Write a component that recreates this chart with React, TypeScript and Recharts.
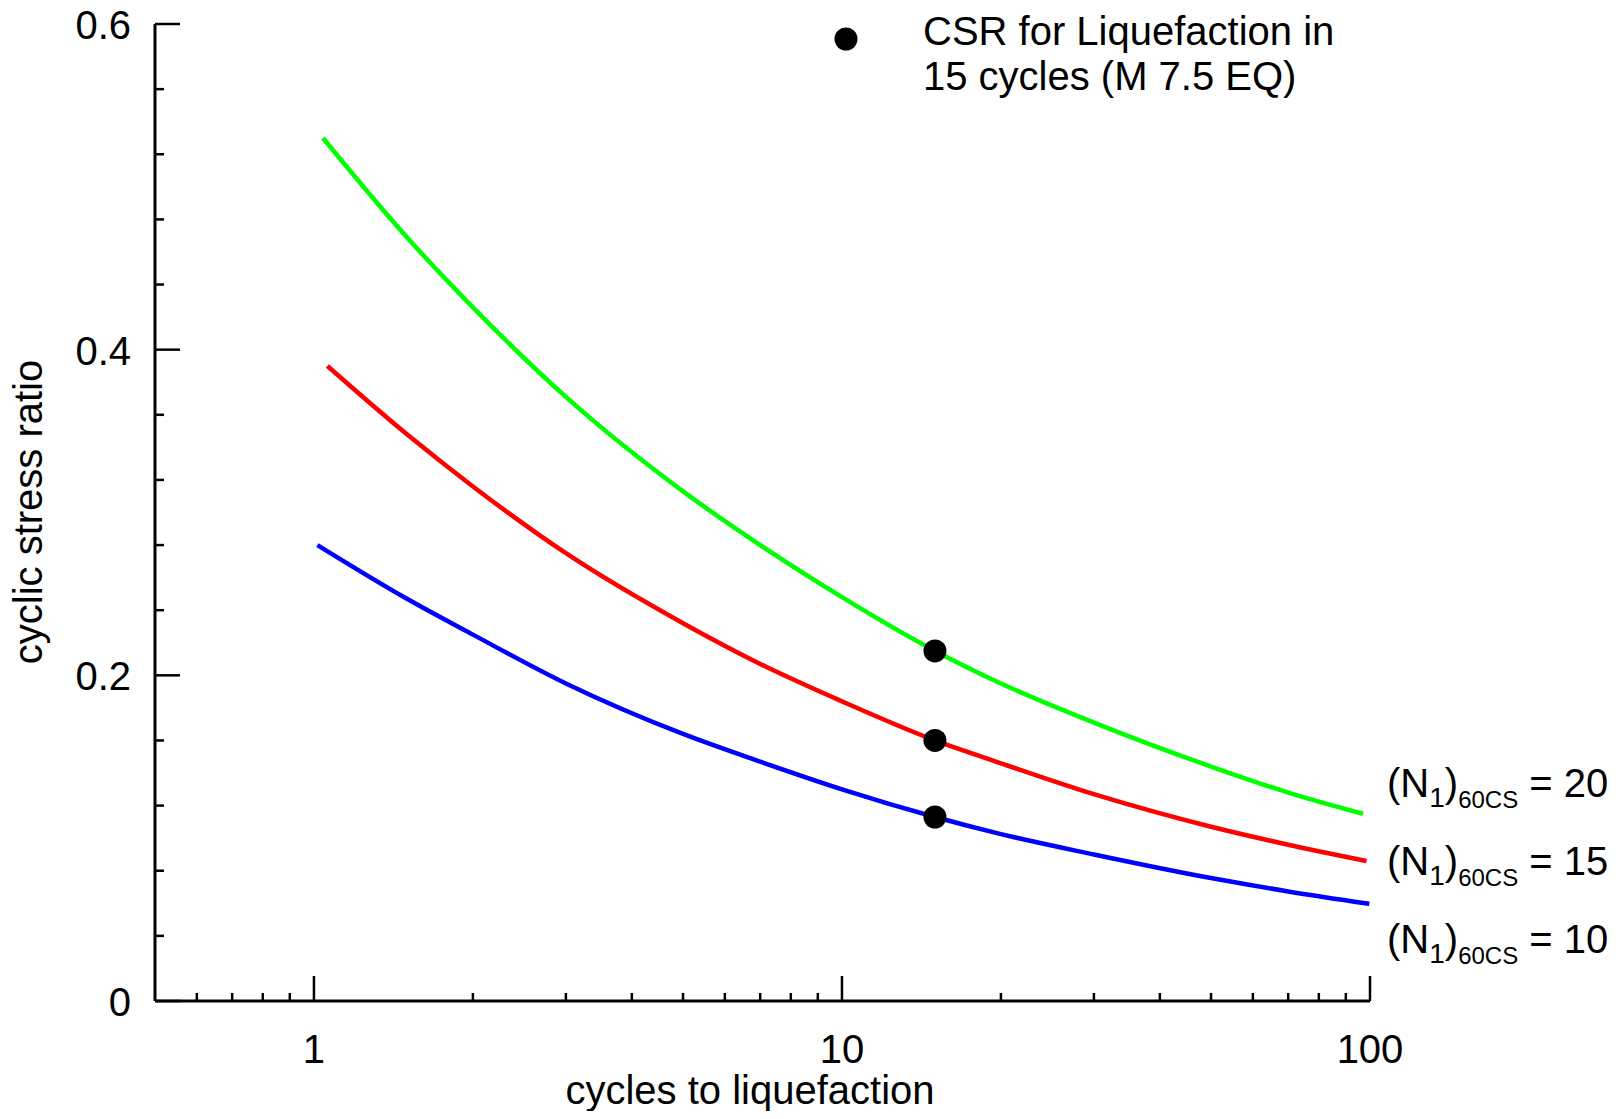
import React from 'react';
import { ComposedChart, Line, Scatter, XAxis, YAxis } from 'recharts';

const FONT = '"Liberation Sans", Arial, Helvetica, sans-serif';

// Curves: cycles to liquefaction vs cyclic stress ratio
const n20Cycles = [1.04, 1.5, 2, 3, 5, 7, 10, 15, 20, 30, 50, 70, 97];
const n20CSR = [0.53, 0.469, 0.426, 0.371, 0.313, 0.28, 0.248, 0.215, 0.195, 0.171, 0.144, 0.128, 0.115];
const n15Cycles = [1.06, 1.5, 2, 3, 5, 7, 10, 15, 20, 30, 50, 70, 98.5];
const n15CSR = [0.39, 0.348, 0.316, 0.275, 0.232, 0.207, 0.184, 0.16, 0.146, 0.127, 0.107, 0.096, 0.086];
const n10Cycles = [1.015, 1.5, 2, 3, 5, 7, 10, 15, 20, 30, 50, 70, 99.7];
const n10CSR = [0.28, 0.247, 0.225, 0.195, 0.164, 0.147, 0.13, 0.113, 0.1025, 0.09, 0.0755, 0.0673, 0.0597];

// CSR for liquefaction in 15 cycles
const markerCycles = [15, 15, 15];
const markerCSR = [0.215, 0.16, 0.113];

const xMajorTicks = [1, 10, 100];
const xTickLabels = ['1', '10', '100'];
const xMinorTicks = [0.6, 0.7, 0.8, 0.9, 2, 3, 4, 5, 6, 7, 8, 9, 20, 30, 40, 50, 60, 70, 80, 90];
const yMajorTicks = [0, 0.2, 0.4, 0.6];
const yTickLabels = ['0', '0.2', '0.4', '0.6'];
const yMinorTicks = [0.04, 0.08, 0.12, 0.16, 0.24, 0.28, 0.32, 0.36, 0.44, 0.48, 0.52, 0.56];

const curveValues = ['20', '15', '10'];
const legendLines = ['CSR for Liquefaction in', '15 cycles (M 7.5 EQ)'];
const xTitle = 'cycles to liquefaction';
const yTitle = 'cyclic stress ratio';

const toRows = (xs: number[], ys: number[]) => xs.map((n, i) => ({ n, csr: ys[i] }));

const n20Data = toRows(n20Cycles, n20CSR);
const n15Data = toRows(n15Cycles, n15CSR);
const n10Data = toRows(n10Cycles, n10CSR);
const markerData = toRows(markerCycles, markerCSR);

const xTicks = [...xMinorTicks, ...xMajorTicks].sort((a, b) => a - b);
const yTicks = [...yMinorTicks, ...yMajorTicks].sort((a, b) => a - b);

const W = 1621;
const H = 1119;

const isIn = (arr: number[], v: number) => arr.findIndex((a) => Math.abs(a - v) < 1e-9);

const XTick = (props: any) => {
  const { x, y, payload } = props;
  const idx = isIn(xMajorTicks, payload.value);
  const major = idx >= 0;
  return (
    <g>
      <line x1={x} x2={x} y1={y} y2={y - (major ? 25 : 8)} stroke="#000" strokeWidth={2.5} />
      {major && (
        <text x={x} y={y + 62} textAnchor="middle" fontSize={40} fontFamily={FONT} fill="#000">
          {xTickLabels[idx]}
        </text>
      )}
    </g>
  );
};

const YTick = (props: any) => {
  const { x, y, payload } = props;
  const idx = isIn(yMajorTicks, payload.value);
  const major = idx >= 0;
  return (
    <g>
      <line x1={x} x2={x + (major ? 25 : 9)} y1={y} y2={y} stroke="#000" strokeWidth={2.5} />
      {major && (
        <text x={x - 24} y={y + 15} textAnchor="end" fontSize={40} fontFamily={FONT} fill="#000">
          {yTickLabels[idx]}
        </text>
      )}
    </g>
  );
};

const Dot = (props: any) => <circle cx={props.cx} cy={props.cy} r={11.5} fill="#000" />;

export default function App() {
  return (
    <div style={{ position: 'relative', width: W, height: H, margin: -8 }}>
      <ComposedChart width={W} height={H} margin={{ top: 24, right: 251, bottom: 58, left: 95 }}>
        <XAxis
          type="number"
          dataKey="n"
          scale="log"
          domain={[0.5, 100]}
          allowDataOverflow
          ticks={xTicks}
          interval={0}
          tickSize={0}
          tickMargin={0}
          tickLine={false}
          tick={<XTick />}
          height={60}
          axisLine={{ stroke: '#000', strokeWidth: 3 }}
        />
        <YAxis
          type="number"
          dataKey="csr"
          domain={[0, 0.6]}
          allowDataOverflow
          ticks={yTicks}
          interval={0}
          tickSize={0}
          tickMargin={0}
          tickLine={false}
          tick={<YTick />}
          width={60}
          axisLine={{ stroke: '#000', strokeWidth: 3 }}
        />
        <Line data={n20Data} dataKey="csr" type="monotone" stroke="#00ff00" strokeWidth={4.5} dot={false} isAnimationActive={false} />
        <Line data={n15Data} dataKey="csr" type="monotone" stroke="#ff0000" strokeWidth={4.5} dot={false} isAnimationActive={false} />
        <Line data={n10Data} dataKey="csr" type="monotone" stroke="#0000ff" strokeWidth={4.5} dot={false} isAnimationActive={false} />
        <Scatter data={markerData} dataKey="csr" fill="#000" shape={<Dot />} isAnimationActive={false} />
      </ComposedChart>
      <svg
        width={W}
        height={H}
        style={{ position: 'absolute', left: 0, top: 0, pointerEvents: 'none' }}
        fontFamily={FONT}
      >
        <circle cx={846} cy={39} r={11.5} fill="#000" />
        <text x={923} y={45} fontSize={40} fill="#000">{legendLines[0]}</text>
        <text x={923} y={90} fontSize={40} fill="#000">{legendLines[1]}</text>
        {curveValues.map((v, i) => (
          <text key={v} x={1387} y={797 + i * 78} fontSize={40} fill="#000">
            <tspan>(N</tspan>
            <tspan fontSize={28} dy={10}>1</tspan>
            <tspan dy={-10}>)</tspan>
            <tspan fontSize={24} dy={11}>60CS</tspan>
            <tspan dy={-11}>{` = ${v}`}</tspan>
          </text>
        ))}
        <text x={750} y={1104} fontSize={40} textAnchor="middle" fill="#000">{xTitle}</text>
        <text x={42} y={512} fontSize={40} textAnchor="middle" fill="#000" transform="rotate(-90 42 512)">
          {yTitle}
        </text>
      </svg>
    </div>
  );
}
